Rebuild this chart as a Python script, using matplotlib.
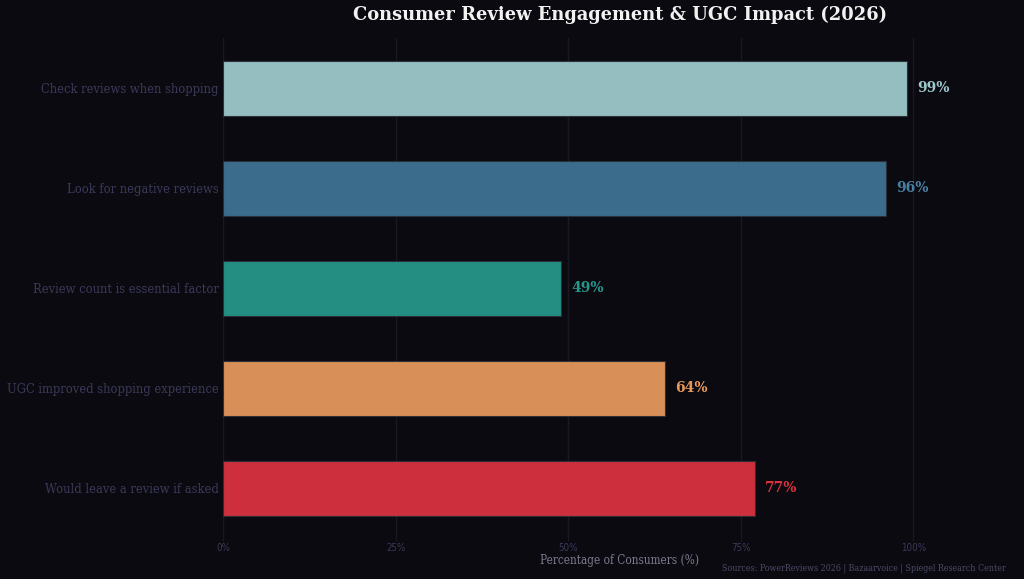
import matplotlib
matplotlib.use("Agg")
import matplotlib.pyplot as plt
import numpy as np

categories = ["Check reviews when shopping", "Look for negative reviews",
              "Review count is essential factor", "UGC improved shopping experience",
              "Would leave a review if asked"]
values = [99, 96, 49, 64, 77]
colors = ["#9cc9cb", "#3f7293", "#26968a", "#e5975d", "#d9323f"]
label_colors = ["#9cc9cb", "#4a7fa3", "#26968a", "#e5975d", "#d9323f"]
xticks = [0, 25, 50, 75, 100]
xticklabels = ["0%", "25%", "50%", "75%", "100%"]

bg = "#0b0a10"
fig = plt.figure(figsize=(10.24, 5.79), dpi=100, facecolor=bg)
ax = fig.add_axes([223/1024, 1-538/579, (1017-223)/1024, (538-38)/579])
ax.set_facecolor(bg)

y = np.arange(len(categories))
ax.barh(y, values, height=0.55, color=colors, alpha=0.95, edgecolor="#2a2f3a", linewidth=0.8, zorder=2)
for yi, v, c in zip(y, values, label_colors):
    ax.text(v + 1.5, yi, f"{v}%", va="center", ha="left", color=c,
            fontsize=10, fontweight="bold", family="DejaVu Serif", zorder=3)

ax.set_xlim(0, 115)
ax.set_ylim(len(categories) - 0.5, -0.5)
ax.set_yticks(y)
ax.set_yticklabels(categories, family="DejaVu Serif", fontsize=8.3, color="#3b3a5a")
ax.set_xticks(xticks)
ax.set_xticklabels(xticklabels, fontsize=7, color="#3b3a5a", fontstretch="condensed")
ax.tick_params(axis="y", length=0, pad=3)
ax.tick_params(axis="x", length=2, color="#1c1c26", pad=1.5)
ax.grid(axis="x", color="#191923", linewidth=1, zorder=0)
ax.axvline(50, color="#33333f", linestyle="--", linewidth=0.9, zorder=1)
for s in ax.spines.values():
    s.set_visible(False)
ax.axvline(0, color="#14141c", linewidth=1, zorder=1)

ax.set_xlabel("Percentage of Consumers (%)", family="DejaVu Serif", fontsize=8.5,
              color="#7a7a8c", labelpad=1, fontstretch="condensed")
fig.text((223+1017)/2/1024, 1-15/579, "Consumer Review Engagement & UGC Impact (2026)",
         ha="center", va="center", family="DejaVu Serif", fontweight="bold", fontsize=12.9, color="#f2f2f2")
fig.text(1006/1024, 1-568/579, "Sources: PowerReviews 2026 | Bazaarvoice | Spiegel Research Center",
         ha="right", va="center", family="DejaVu Serif", fontsize=6.4, color="#4a4a66", fontstretch="condensed")

fig.savefig("out.png", dpi=100, facecolor=bg)
